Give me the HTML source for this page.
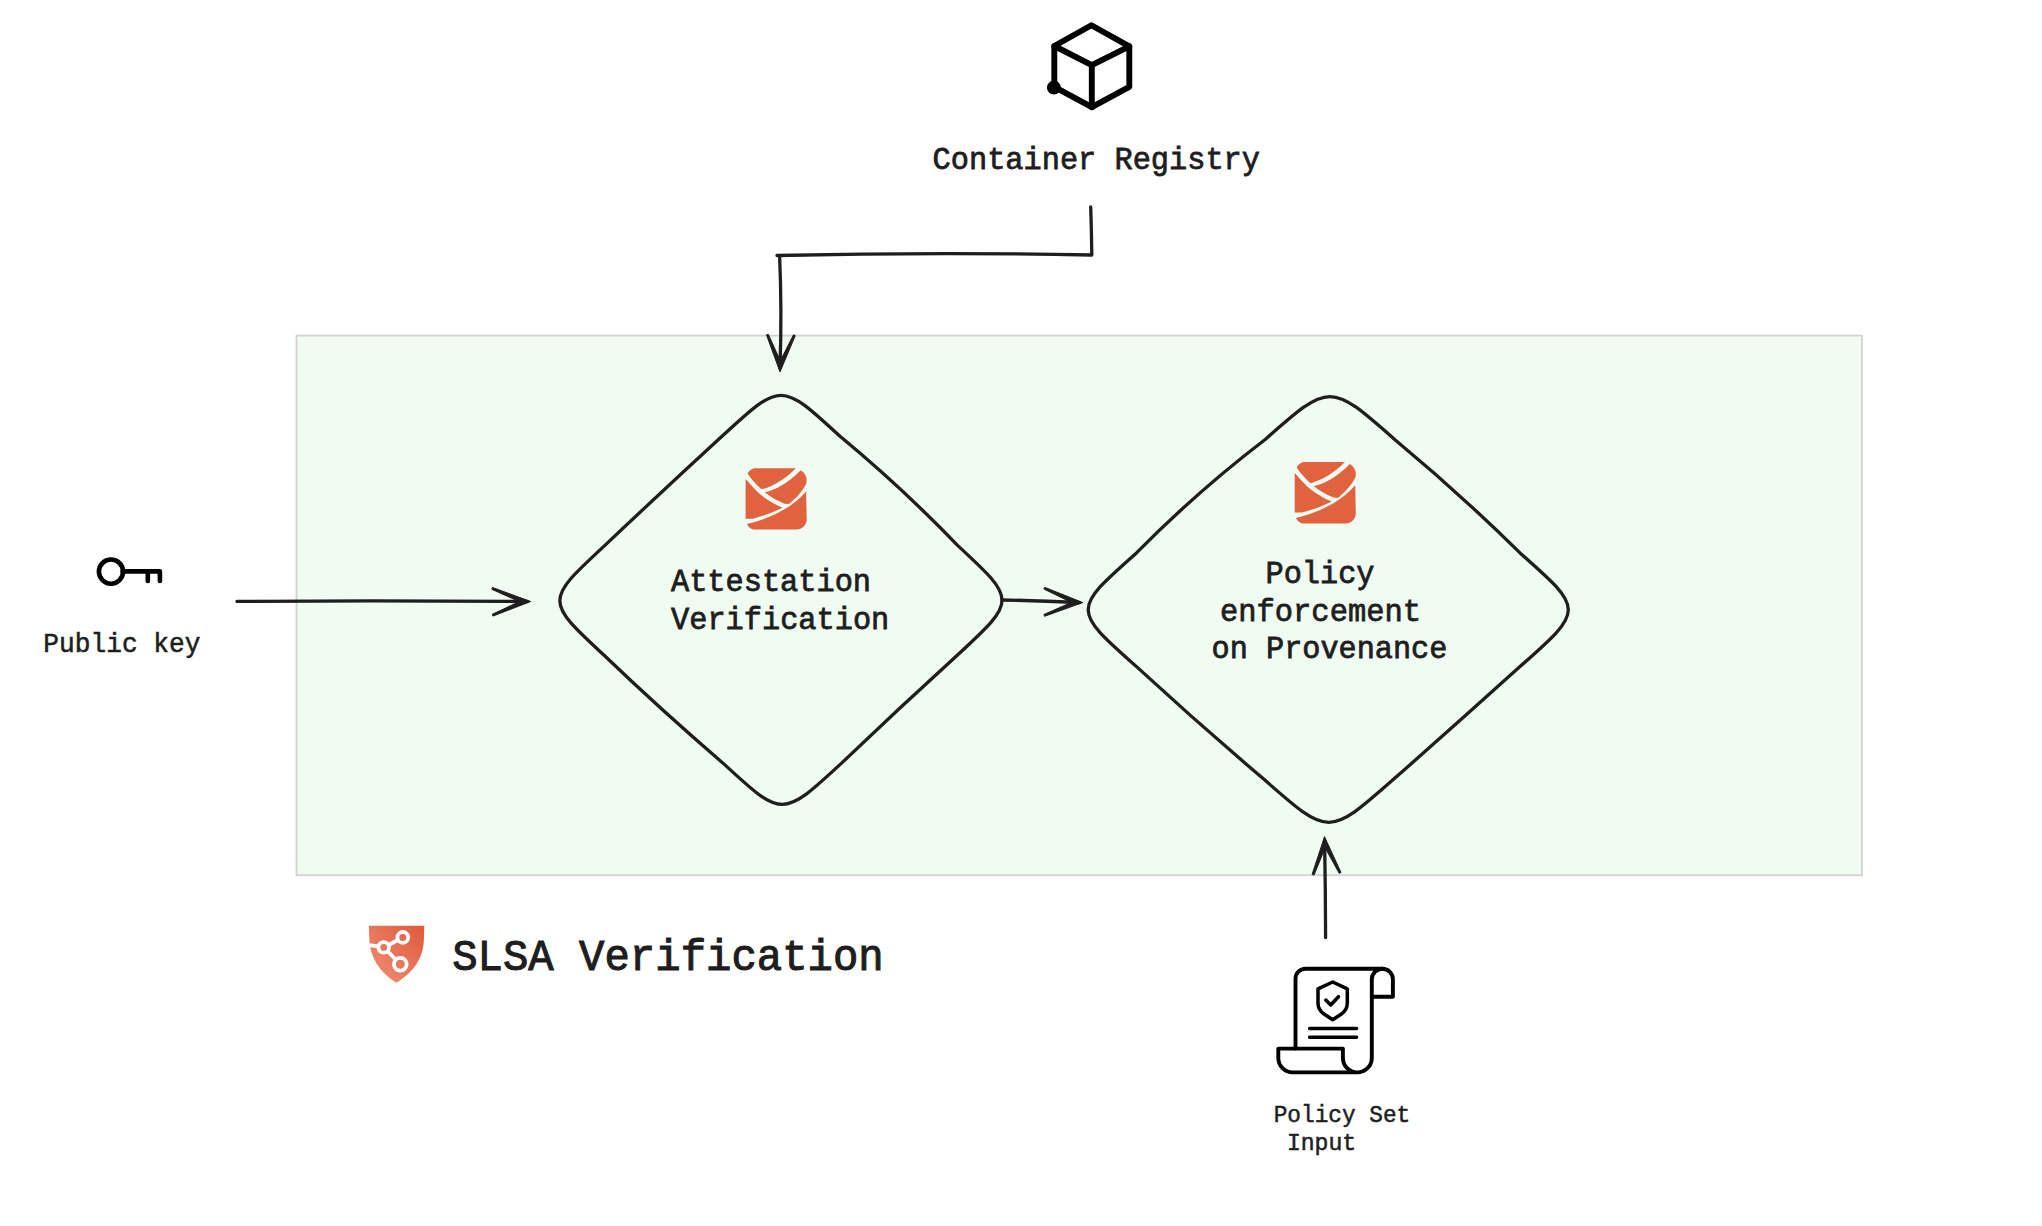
<!DOCTYPE html>
<html><head><meta charset="utf-8">
<style>
html,body{margin:0;padding:0;background:#fff;}
body{width:2042px;height:1226px;overflow:hidden;position:relative;}
svg{position:absolute;left:0;top:0;}
.ah{fill:#1e1e1e;stroke:#1e1e1e;stroke-width:1px;stroke-linejoin:round;}
text{font-family:"Liberation Mono",monospace;fill:#1e1e1e;stroke:#1e1e1e;stroke-width:0.8px;}
</style></head>
<body>
<svg width="2042" height="1226" viewBox="0 0 2042 1226">
<defs>
<linearGradient id="sg" x1="1" y1="0" x2="0" y2="1">
<stop offset="0" stop-color="#e0593a"/>
<stop offset="1" stop-color="#ef9178"/>
</linearGradient>
<g id="envp" fill="#e0623f">
<path d="M9.1 0.3 L50.5 0.3 C42 9 30 18 16.1 21.4 C11 17 6 11 2.3 5.6 C3.5 3 6 1 9.1 0.3 Z"/>
<path d="M55.5 2.3 C59 4.5 61.4 8 61.4 11.7 L61.1 15.3 C57 24 50 31 43.5 36.1 L39.3 35.8 C32 33 25 29 19.4 24.4 C30 22 43 15 55.5 2.3 Z"/>
<path d="M0.3 11.2 L0.3 50.8 L7.6 50.8 C18 48 29 44 37.3 39.6 C30 37 20 31 12.3 24.1 C8 20 3 14 0.3 11.2 Z"/>
<path d="M1.5 56.1 C20 52 45 42 60.8 23.5 L61.4 51.7 C61.4 57 57 61.7 51.1 61.7 L9.4 61.7 C6 61.7 3 59.5 1.5 56.1 Z"/>
</g>
</defs>
<!-- green container -->
<rect x="296.5" y="335.6" width="1565.4" height="539.6" fill="#f0fbf1" stroke="#d2d2d2" stroke-width="1.8"/>

<!-- cube icon -->
<g fill="none" stroke="#000" stroke-width="5.9" stroke-linejoin="round" stroke-linecap="round">
<path d="M1091.4 25.2 L1129.3 46.4 L1129.3 86.8 L1091.8 107.2 L1054.3 86.8 L1054.3 46 Z"/>
<path d="M1054.3 46 L1091.8 65.2 L1129.3 46.4 M1091.8 65.2 L1091.8 107.2"/>
</g>
<circle cx="1053.9" cy="87.6" r="7" fill="#000"/>
<text x="932.6" y="169" font-size="32" textLength="327.4" lengthAdjust="spacingAndGlyphs">Container Registry</text>

<!-- registry arrow -->
<g fill="none" stroke="#1e1e1e" stroke-width="3.3" stroke-linecap="round" stroke-linejoin="round">
<path d="M1090.7 207 Q1091.5 230 1091.8 255 Q935 252 777 255.5"/>
<path d="M779.6 256 Q782 310 780 368"/>
<path class="ah" d="M766.6 335.2 L780.0 371.9 L795.3 335.6 L793.5 334.8 L780.3 360.8 L768.4 334.6 Z"/>
</g>

<!-- diamonds -->
<g fill="none" stroke="#1e1e1e" stroke-width="3.3">
<path d="M840.0 436.3 Q902.0 487.6 957.8 545.6 C1016.8 600.2 1016.8 600.2 957.8 654.8 Q898.9 708.4 841.3 763.4 C782.3 818.0 782.3 818.0 723.3 763.4 Q662.2 711.0 604.1 655.3 C545.1 600.7 545.1 600.7 604.1 546.1 Q662.6 490.8 722.0 436.3 C781.0 381.7 781.0 381.7 840.0 436.3 Z"/>
<path d="M1394.4 439.2 Q1459.6 493.3 1520.0 552.9 C1584.4 609.7 1584.4 609.7 1520.0 666.6 Q1457.0 723.5 1393.2 779.6 C1328.8 836.5 1328.8 836.5 1264.3 779.6 Q1199.3 724.4 1136.5 666.6 C1072.1 609.7 1072.1 609.7 1136.5 552.9 Q1197.0 491.5 1265.5 439.2 C1329.9 382.3 1329.9 382.3 1394.4 439.2 Z"/>
</g>

<!-- envelope icons -->
<g id="env1" transform="translate(745.3 467.9)">
<use href="#envp"/>
</g>
<g transform="translate(1294.4 461.8)">
<use href="#envp"/>
</g>

<text x="671" y="591" font-size="32" textLength="200" lengthAdjust="spacingAndGlyphs">Attestation</text>
<text x="671" y="629" font-size="32" textLength="218.3" lengthAdjust="spacingAndGlyphs">Verification</text>

<text x="1265.5" y="582.8" font-size="32" textLength="109" lengthAdjust="spacingAndGlyphs">Policy</text>
<text x="1220" y="620.9" font-size="32" textLength="201" lengthAdjust="spacingAndGlyphs">enforcement</text>
<text x="1211.6" y="657.7" font-size="32" textLength="235.8" lengthAdjust="spacingAndGlyphs">on Provenance</text>

<!-- arrow between diamonds -->
<g fill="none" stroke="#1e1e1e" stroke-width="3.3" stroke-linecap="round" stroke-linejoin="round">
<path d="M1002 600 Q1040 600.5 1079 602.5"/>
<path class="ah" d="M1045.0 587.4 L1082.8 602.6 L1044.5 616.3 L1043.9 614.5 L1071.4 602.4 L1044.2 589.2 Z"/>
</g>

<!-- key icon -->
<g fill="none" stroke="#000" stroke-width="4.6" stroke-linecap="round" stroke-linejoin="round">
<circle cx="111" cy="571.6" r="12.1"/>
<path d="M122.6 571.4 H159.9 V580.9 M147.8 571.4 V580.9"/>
</g>
<text x="43.3" y="651.8" font-size="27" textLength="157.2" lengthAdjust="spacingAndGlyphs" style="stroke-width:0.55px">Public key</text>

<!-- public key arrow -->
<g fill="none" stroke="#1e1e1e" stroke-width="3.3" stroke-linecap="round" stroke-linejoin="round">
<path d="M237 601.4 Q380 600.5 527 601.5"/>
<path class="ah" d="M492.7 587.6 L530.8 601.5 L492.9 616.1 L492.3 614.3 L519.3 601.6 L492.1 589.4 Z"/>
</g>

<!-- SLSA shield -->
<g transform="translate(362 920)">
<path d="M6.9 5.7 H62.3 L62 17 C61.8 38 52 52 34.3 62.8 C17 52 9 38 7.4 22 Z" fill="url(#sg)"/>
<g fill="none" stroke="#fff" stroke-width="3.8">
<circle cx="40.8" cy="17.4" r="5.4"/>
<circle cx="21.7" cy="27.4" r="5.3"/>
<circle cx="38.3" cy="44.3" r="6.4"/>
<path d="M6.9 25.1 L16.5 26.5 M26.5 25 L36 20 M25.5 31 L33.5 39.5"/>
</g>
</g>
<text x="452.2" y="969.8" font-size="45" textLength="431.5" style="stroke-width:1.1px" lengthAdjust="spacingAndGlyphs">SLSA Verification</text>

<!-- policy up arrow -->
<g fill="none" stroke="#1e1e1e" stroke-width="3.3" stroke-linecap="round" stroke-linejoin="round">
<path d="M1325.6 937.5 Q1325.5 890 1324.6 840"/>
<path class="ah" d="M1312.2 874.1 L1324.5 836.7 L1341.0 872.5 L1339.2 873.3 L1325.1 847.8 L1314.2 874.7 Z"/>
</g>

<!-- scroll icon -->
<g fill="none" stroke="#000" stroke-width="3.9" stroke-linecap="round" stroke-linejoin="round">
<path d="M1295.5 1048.6 V978.8 A10 10 0 0 1 1305.5 968.8 H1382.3"/>
<path d="M1371.8 996.7 H1392.9 V979.3 A10.5 10.5 0 0 0 1371.8 979.3 V1057.9 A14.5 14.5 0 0 1 1357.3 1072.4 H1292.6 A14.3 14.3 0 0 1 1278.3 1058.1 V1048.6 H1342.9 V1057.9 A14.5 14.5 0 0 0 1357.3 1072.4"/>
<path d="M1332.7 982 L1318 988.9 V1003.1 Q1318 1010 1324 1014 L1332.7 1019.7 L1341.4 1014 Q1347.3 1010 1347.3 1003.1 V988.9 Z" stroke-width="3.5"/>
<path d="M1325.8 1000.1 L1330.7 1005 L1338.5 996.7" stroke-width="3.5"/>
<path d="M1309.6 1028.5 H1356.6 M1309.6 1037.3 H1356.6" stroke-width="3.5"/>
</g>
<text x="1273.7" y="1122" font-size="23" textLength="136.5" lengthAdjust="spacingAndGlyphs" style="stroke-width:0.5px">Policy Set</text>
<text x="1286.9" y="1149.7" font-size="23" textLength="69.3" lengthAdjust="spacingAndGlyphs" style="stroke-width:0.5px">Input</text>
</svg>
</body></html>
